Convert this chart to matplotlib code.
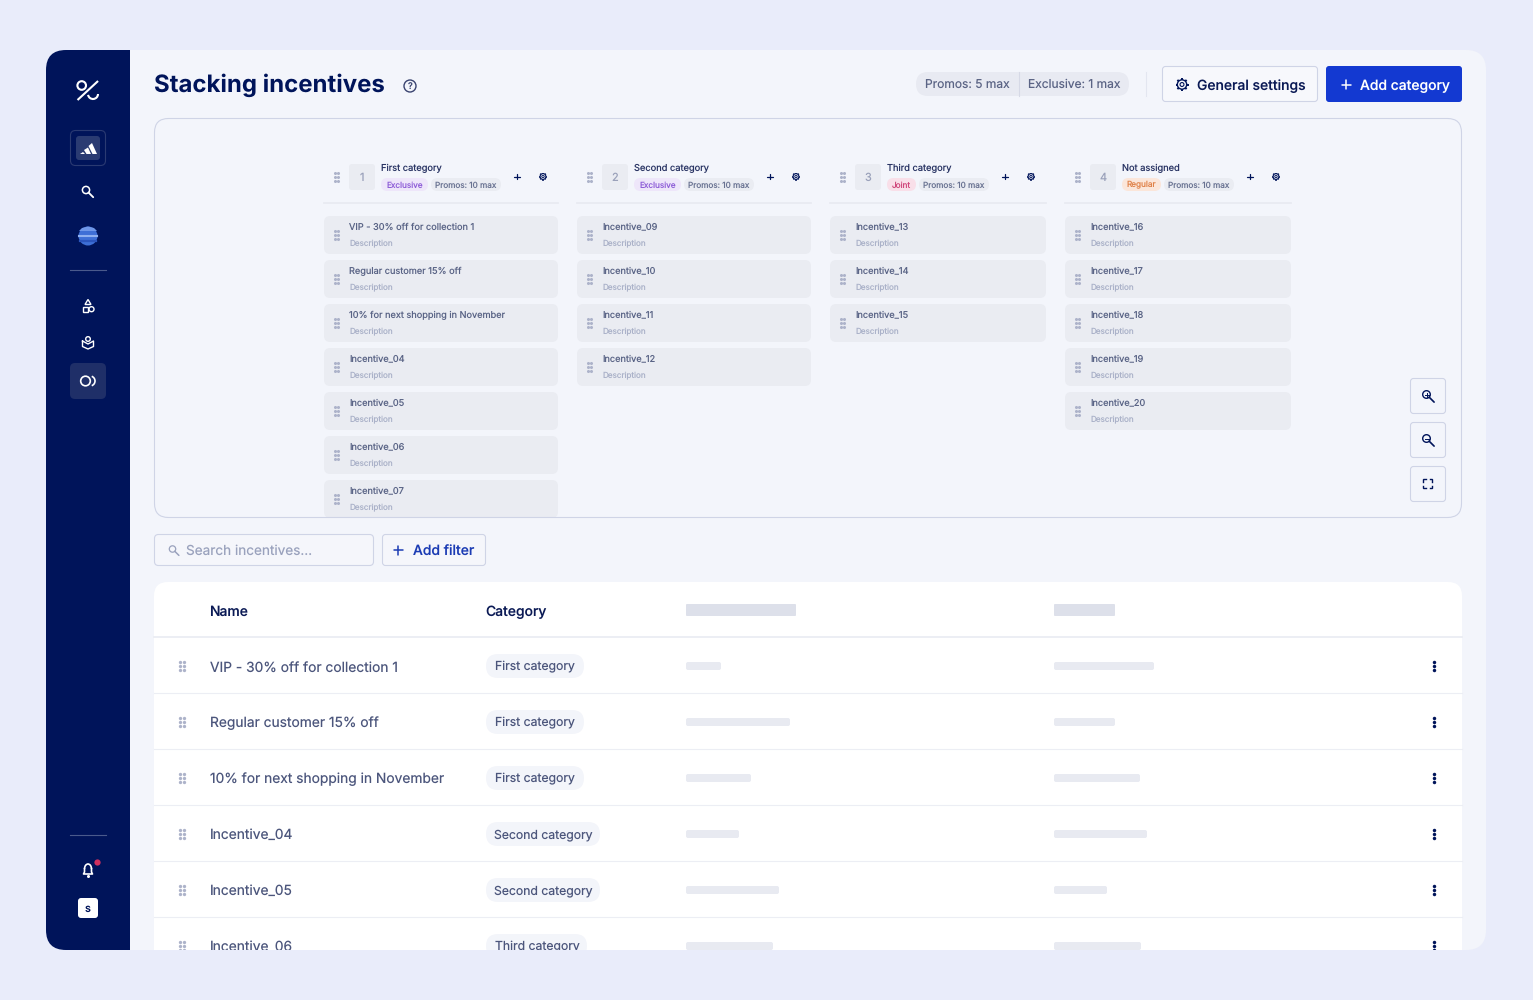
import matplotlib
matplotlib.use('Agg')
import matplotlib.pyplot as plt
from matplotlib.patches import FancyBboxPatch, Rectangle, Circle, Polygon, Arc
import numpy as np

plt.rcParams['font.family'] = ['Inter', 'Noto Sans', 'DejaVu Sans']
plt.rcParams['text.hinting'] = 'none'
plt.rcParams['text.hinting_factor'] = 1

# kanban columns
col_titles = ['First category', 'Second category', 'Third category', 'Not assigned']
col_tags = ['Exclusive', 'Exclusive', 'Joint', 'Regular']
col_items = [
    ['VIP - 30% off for collection 1', 'Regular customer 15% off', '10% for next shopping in November',
     'Incentive_04', 'Incentive_05', 'Incentive_06', 'Incentive_07'],
    ['Incentive_09', 'Incentive_10', 'Incentive_11', 'Incentive_12'],
    ['Incentive_13', 'Incentive_14', 'Incentive_15'],
    ['Incentive_16', 'Incentive_17', 'Incentive_18', 'Incentive_19', 'Incentive_20'],
]
promo_label = 'Promos: 10 max'

# table
row_names = ['VIP - 30% off for collection 1', 'Regular customer 15% off', '10% for next shopping in November',
             'Incentive_04', 'Incentive_05', 'Incentive_06']
row_cats = ['First category', 'First category', 'First category',
            'Second category', 'Second category', 'Third category']
skel_a = [35, 104, 65, 53, 93, 87]
skel_b = [100, 61, 86, 93, 53, 87]

# layout of columns: left, width, tag width
col_x = [324, 577, 830, 1065]
col_w = [234, 234, 216, 226]
tag_w = [47, 47, 29, 39]
pill_w = [98, 98, 98, 114, 114, 101]
tag_style = {'Exclusive': ('#eee6fa', '#8f5fd8'), 'Joint': ('#f9dfe9', '#d0487c'), 'Regular': ('#fbe6da', '#e0824a')}

NAVY = '#00145a'
PANEL = '#f3f5fb'
BG = '#e9ecfa'
SLATE = '#4c567c'
BORDER = '#cfd4e6'
CARD = '#eaecf2'

fig = plt.figure(figsize=(15.33, 10), dpi=100, facecolor=BG)
ax = fig.add_axes([0, 0, 1, 1])
ax.set_xlim(0, 1533)
ax.set_ylim(1000, 0)
ax.axis('off')


def box(x, y, w, h, r, fc, ec='none', lw=0, z=2, clip=None):
    p = FancyBboxPatch((x, y), w, h, boxstyle='round,pad=0,rounding_size=%s' % r,
                       fc=fc, ec=ec, lw=lw, zorder=z)
    ax.add_patch(p)
    if clip is not None:
        p.set_clip_path(clip)
    return p


def txt(x, y, s, px, color, weight='normal', ha='left', z=5, clip=None):
    # y is the middle of the capitals
    t = ax.text(x, y + px * 0.36, s, fontsize=px * 0.72, color=color, weight=weight, ha=ha, va='baseline', zorder=z)
    if clip is not None:
        t.set_clip_path(clip)
    return t


def dots(cx, cy, gap, size, color='#adb3ca', clip=None):
    for dx in (-gap / 2, gap / 2):
        for dy in (-gap, 0, gap):
            l, = ax.plot(cx + dx, cy + dy, 'o', ms=size, color=color, mew=0, zorder=5)
            if clip is not None:
                l.set_clip_path(clip)


def plus(cx, cy, s, color, lw=1.1):
    ax.plot([cx - s, cx + s], [cy, cy], color=color, lw=lw, zorder=6, solid_capstyle='round')
    ax.plot([cx, cx], [cy - s, cy + s], color=color, lw=lw, zorder=6, solid_capstyle='round')


def gear(cx, cy, r, color, lw=1.0):
    ax.add_patch(Circle((cx, cy), r * 0.72, fc='none', ec=color, lw=lw, zorder=6))
    ax.add_patch(Circle((cx, cy), r * 0.3, fc='none', ec=color, lw=lw * 0.8, zorder=6))
    for a in np.arange(0, 2 * np.pi, np.pi / 4):
        ax.plot([cx + r * 0.72 * np.cos(a), cx + r * np.cos(a)], [cy + r * 0.72 * np.sin(a), cy + r * np.sin(a)],
                color=color, lw=lw * 1.4, zorder=6, solid_capstyle='butt')


def lens(cx, cy, r, color, lw=1.2, z=6):
    ax.add_patch(Circle((cx, cy), r, fc='none', ec=color, lw=lw, zorder=z))
    ax.plot([cx + r * 0.7, cx + r * 2], [cy + r * 0.7, cy + r * 2], color=color, lw=lw * 1.2, zorder=z,
            solid_capstyle='round')


# main panel + sidebar
box(100, 50, 1386, 900, 20, PANEL, z=1)
box(46, 50, 110, 900, 20, NAVY, z=1.5)
ax.add_patch(Rectangle((130, 50), 40, 900, fc=PANEL, ec='none', zorder=1.6))

# sidebar icons
ax.add_patch(Circle((81.7, 85.5), 4.3, fc='none', ec='white', lw=1.5, zorder=6))
ax.plot([78.3, 97.3], [99.3, 81.7], color='white', lw=1.5, zorder=6)
ax.add_patch(Arc((93, 94), 10, 10, theta1=0, theta2=170, ec='white', lw=1.5, zorder=6))

box(70.5, 130.5, 35, 35, 5, NAVY, ec='#2a3a72', lw=0.8, z=3)
box(76, 136, 24, 24, 3, '#2a3b72', z=4)
ax.add_patch(Polygon([[80, 154], [83, 152], [85, 154]], fc='white', ec='none', zorder=6))
ax.add_patch(Polygon([[84, 150], [88, 147.5], [91, 154], [86.5, 154]], fc='white', ec='none', zorder=6))
ax.add_patch(Polygon([[88.5, 146], [92, 143], [97, 154], [92.5, 154]], fc='white', ec='none', zorder=6))
lens(86, 190, 3.6, 'white', 1.1)

ax.add_patch(Circle((88, 236), 9.5, fc='#3e6fd6', ec='none', zorder=4))
ax.add_patch(Polygon([[79, 231], [97, 231], [94, 228], [88, 226.5], [82, 228]], fc='#6f97e8', ec='none', zorder=5))
ax.plot([79, 97], [235.5, 235.5], color='#8fb0f0', lw=1.5, zorder=5)
ax.plot([80, 96], [240.5, 240.5], color='#2b55bd', lw=1.6, zorder=5)

ax.plot([70, 106], [270, 270], color='#4a5a8c', lw=0.8, zorder=5)
ax.plot([70, 106], [835, 835], color='#4a5a8c', lw=0.8, zorder=5)

ax.add_patch(Polygon([[88, 299.5], [91, 304.5], [85, 304.5]], fc='none', ec='white', lw=1.0, zorder=6))
ax.add_patch(Rectangle((82.5, 307), 5, 4.5, fc='none', ec='white', lw=1.0, zorder=6))
ax.add_patch(Circle((91.5, 309.2), 2.5, fc='none', ec='white', lw=1.0, zorder=6))

ax.add_patch(Circle((88, 339), 2.3, fc='none', ec='white', lw=1.0, zorder=6))
ax.plot([82.5, 82.5, 88, 93.5, 93.5, 88, 82.5], [341, 346.5, 349, 346.5, 341, 344, 341], color='white', lw=1.0, zorder=6)

box(70, 363, 36, 36, 5, '#1f2f68', z=3)
ax.add_patch(Circle((85.5, 381), 4.8, fc='none', ec='white', lw=1.2, zorder=6))
ax.add_patch(Arc((90, 381), 10, 10, theta1=-70, theta2=70, ec='white', lw=1.2, zorder=6))

ax.add_patch(Arc((88, 869), 7, 10, theta1=180, theta2=360, ec='white', lw=1.2, zorder=6))
ax.plot([84.5, 84.5, 83.5, 92.5, 91.5, 91.5], [869, 872, 874, 874, 872, 869], color='white', lw=1.2, zorder=6)
ax.plot(88, 876, 'o', ms=2.2, color='white', mew=0, zorder=6)
ax.plot(96.5, 862, 'o', ms=4.5, color='#d0305f', mew=0, zorder=6)
box(78, 898, 20, 20, 3, 'white', z=4)
txt(88, 908, 's', 11, NAVY, weight='medium', ha='center', z=6)

# page header
txt(154, 83, 'Stacking incentives', 24, NAVY, weight='bold')
ax.add_patch(Circle((410, 86), 6, fc='none', ec='#3a4470', lw=1.0, zorder=6))
txt(410, 86, '?', 9, '#3a4470', ha='center', weight='medium', z=6)

box(916, 72, 213, 24, 12, '#e8eaf2')
ax.plot([1018.5, 1018.5], [72, 96], color='#d6d9e6', lw=0.8, zorder=3)
txt(925, 85, 'Promos: 5 max', 12, '#5b6485')
txt(1027.5, 84, 'Exclusive: 1 max', 12, '#5b6485')
ax.plot([1145.5, 1145.5], [72, 96], color='#e3e6f0', lw=0.8, zorder=3)

box(1162.5, 66.5, 155, 35, 3, '#f7f8fc', ec=BORDER, lw=0.8)
gear(1182, 84.5, 6.5, NAVY, 1.0)
txt(1197, 85, 'General settings', 13.9, '#0b1a55', weight='medium')
box(1326, 66, 136, 36, 3, '#1339d1')
plus(1346, 84.5, 4.5, 'white', 1.1)
txt(1360, 85, 'Add category', 13.9, 'white', weight='medium')

# kanban canvas
box(154.5, 118.5, 1307, 399, 14, 'none', ec=BORDER, lw=0.8, z=8)
canvas_clip = Rectangle((154, 118), 1308, 399, transform=ax.transData)

for i in range(4):
    x, w = col_x[i], col_w[i]
    dots(x + 12.5, 177, 3.6, 2.2)
    box(x + 25, 164, 26, 26, 3, CARD)
    txt(x + 38, 177, str(i + 1), 11, '#9aa1ba', ha='center')
    txt(x + 57, 167.5, col_titles[i], 9.3, '#2a3564')
    fc, tc = tag_style[col_tags[i]]
    box(x + 57, 178, tag_w[i], 13, 6.5, fc)
    txt(x + 57 + tag_w[i] / 2, 184.5, col_tags[i], 8.2, tc, ha='center')
    px = x + 57 + tag_w[i] + 3
    box(px, 178, 70, 13, 6.5, CARD)
    txt(px + 35, 184.5, promo_label, 8.2, '#6a7392', ha='center')
    plus(px + 86, 176.5, 2.6, NAVY, 0.9)
    gear(px + 112, 176.5, 4, NAVY, 0.8)
    ax.plot([x, x + w], [203, 203], color='#e9ebf2', lw=1.3, zorder=3)
    for j, name in enumerate(col_items[i]):
        y = 216 + 44 * j
        box(x, y, w, 38, 6, CARD, clip=canvas_clip)
        dots(x + 12.5, y + 19, 3.6, 2.2, clip=canvas_clip)
        # names with an underscore land a pixel low
        txt(x + 25, y + 11 - ('_' in name) * 0.7, name, 9.2, '#5a6486', clip=canvas_clip)
        txt(x + 25, y + 27.2, 'Description', 8.1, '#abb2c9', clip=canvas_clip)

# zoom buttons
for k, y in enumerate([378, 422, 466]):
    box(1410.5, y + 0.5, 35, 35, 3, PANEL, ec=BORDER, lw=0.8, z=9)
    cx, cy = 1427.5, y + 17.5
    if k < 2:
        lens(cx - 1, cy - 1, 3.8, NAVY, 1.0, z=10)
        ax.plot([cx - 3, cx + 1], [cy - 1, cy - 1], color=NAVY, lw=0.7, zorder=10)
        if k == 0:
            ax.plot([cx - 1, cx - 1], [cy - 3, cy + 1], color=NAVY, lw=0.7, zorder=10)
    else:
        for sx in (-1, 1):
            for sy in (-1, 1):
                ax.plot([cx + sx * 4.5, cx + sx * 4.5, cx + sx * 2], [cy + sy * 2, cy + sy * 4.5, cy + sy * 4.5],
                        color=NAVY, lw=1.0, zorder=10, solid_joinstyle='miter')

# search + filter
box(154.5, 534.5, 219, 31, 4, '#f5f6fb', ec=BORDER, lw=0.8)
lens(172.5, 549, 3.2, '#9aa2bd', 0.9)
txt(186, 550, 'Search incentives...', 13.6, '#9aa2bd')
box(382.5, 534.5, 103, 31, 3, '#f5f6fb', ec=BORDER, lw=0.8)
plus(398, 550, 4.5, '#1c3cb4', 1.1)
txt(413, 551, 'Add filter', 13.9, '#1c3cb4', weight='medium')

# table
box(154, 582, 1308, 400, 14, 'white', z=2)
txt(209.5, 611, 'Name', 13.9, '#0b1a55', weight='medium')
txt(485.5, 611, 'Category', 13.9, '#0b1a55', weight='medium')
box(686, 604, 110, 12, 1, '#dde0ea')
box(1054, 604, 61, 12, 1, '#dde0ea')
ax.plot([154, 1462], [637, 637], color='#eceef4', lw=1.4, zorder=3)

for i in range(len(row_names)):
    y = 666 + 56 * i
    if i > 0:
        ax.plot([154, 1462], [y - 29, y - 29], color='#eceef4', lw=0.8, zorder=3)
    dots(181.5, y, 4, 2.4)
    txt(210, y + (i == 0) * 0.6, row_names[i], 13.8, SLATE)
    box(486, y - 12, pill_w[i], 24, 12, '#f3f5fa')
    txt(495 if pill_w[i] != 114 else 494, y, row_cats[i], 12.2, SLATE)
    box(686, y - 4, skel_a[i], 8, 2, '#e8eaf1')
    box(1054, y - 4, skel_b[i], 8, 2, '#e8eaf1')
    for dy in (-4, 0, 4):
        ax.plot(1433.7, y + dy, 'o', ms=2.5, color=NAVY, mew=0, zorder=5)

# page is cut off at the bottom
ax.add_patch(Rectangle((0, 950), 1533, 50, fc=BG, ec='none', zorder=20))

fig.savefig('out.png', dpi=100, facecolor=BG)
